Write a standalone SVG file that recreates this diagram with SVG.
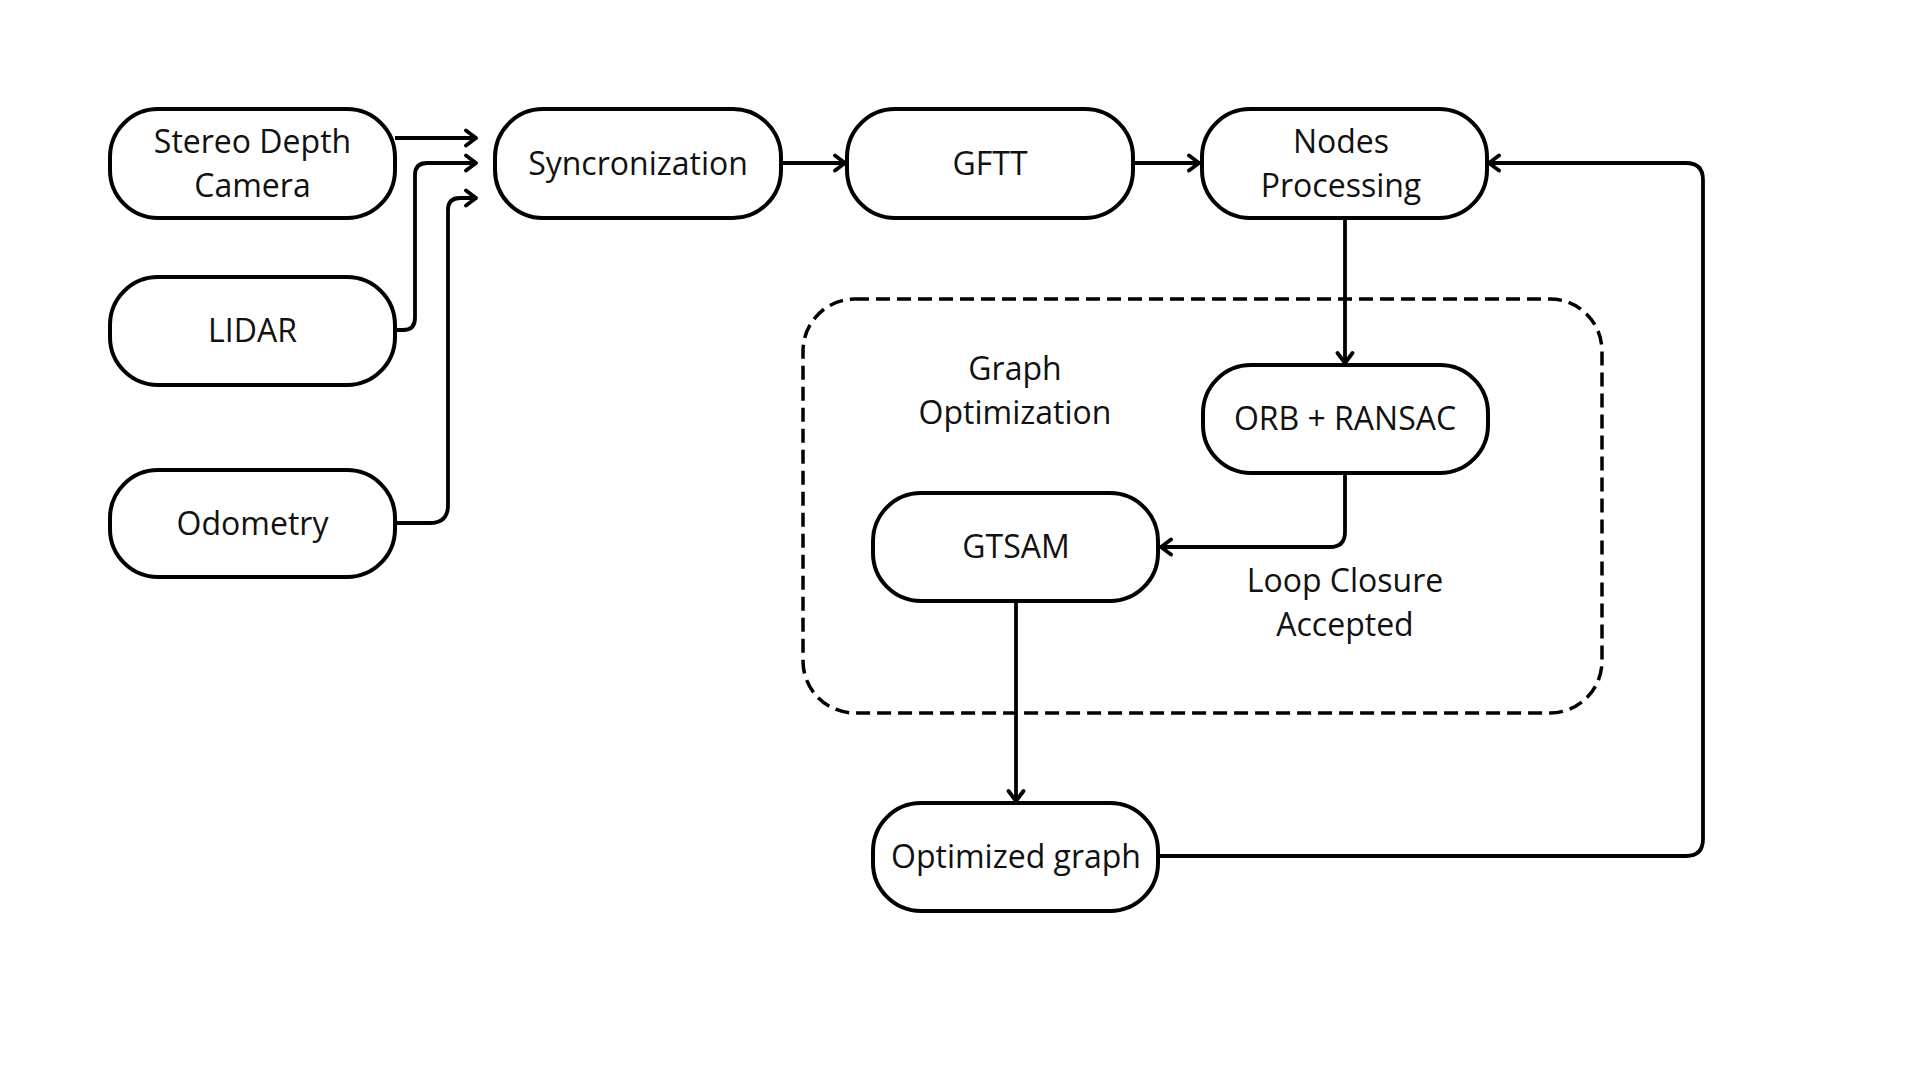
<svg xmlns="http://www.w3.org/2000/svg" width="1920" height="1080" viewBox="0 0 1920 1080">
<defs>
<style>
.node rect{fill:#fff;stroke:#000;stroke-width:4}
.lbl{font-family:"Open Sans","Noto Sans",sans-serif;font-size:32px;fill:#111;text-anchor:middle}
.conn path{fill:none;stroke:#000;stroke-width:3.8}
</style>
<marker id="arr" markerUnits="userSpaceOnUse" markerWidth="20" markerHeight="20" refX="13" refY="9" orient="auto" viewBox="0 0 20 18">
<path d="M3,1.5 L13,9 L3,16.5" fill="none" stroke="#000" stroke-width="3.8" stroke-linecap="round" stroke-linejoin="round"/>
</marker>
</defs>
<rect width="1920" height="1080" fill="#fff"/>
<g id="group-graph-optimization">
<rect x="803" y="299" width="799" height="414" rx="52" fill="none" stroke="#000" stroke-width="3.5" stroke-dasharray="14,7"/>
<text class="lbl" x="1015" y="380">Graph</text>
<text class="lbl" x="1015" y="424">Optimization</text>
</g>
<g class="conn" id="connectors">
<path d="M395,138 H476" marker-end="url(#arr)"/>
<path d="M395,330 H403 Q415,330 415,318 V175 Q415,163 427,163 H476" marker-end="url(#arr)"/>
<path d="M395,523 H430 Q448,523 448,505 V210 Q448,198 460,198 H476" marker-end="url(#arr)"/>
<path d="M781,163 H845" marker-end="url(#arr)"/>
<path d="M1133,163 H1199" marker-end="url(#arr)"/>
<path d="M1345,218 V363" marker-end="url(#arr)"/>
<path d="M1345,473 V532 Q1345,547 1330,547 H1161" marker-end="url(#arr)"/>
<path d="M1016,602 V801" marker-end="url(#arr)"/>
<path d="M1158,856 H1686 Q1703,856 1703,839 V180 Q1703,163 1686,163 H1489" marker-end="url(#arr)"/>
<text class="lbl" x="1345" y="592">Loop Closure</text>
<text class="lbl" x="1345" y="636">Accepted</text>
</g>
<g class="node" id="node-stereo">
<rect x="110" y="109" width="285" height="109" rx="48"/>
<text class="lbl" x="252.5" y="153">Stereo Depth</text>
<text class="lbl" x="252.5" y="197">Camera</text>
</g>
<g class="node" id="node-lidar">
<rect x="110" y="277" width="285" height="108" rx="48"/>
<text class="lbl" x="252.5" y="342">LIDAR</text>
</g>
<g class="node" id="node-odometry">
<rect x="110" y="470" width="285" height="107" rx="48"/>
<text class="lbl" x="252.5" y="535">Odometry</text>
</g>
<g class="node" id="node-sync">
<rect x="495" y="109" width="286" height="109" rx="48"/>
<text class="lbl" x="638" y="175">Syncronization</text>
</g>
<g class="node" id="node-gftt">
<rect x="847" y="109" width="286" height="109" rx="48"/>
<text class="lbl" x="990" y="175">GFTT</text>
</g>
<g class="node" id="node-nodes">
<rect x="1202" y="109" width="285" height="109" rx="48"/>
<text class="lbl" x="1341" y="153">Nodes</text>
<text class="lbl" x="1341" y="197">Processing</text>
</g>
<g class="node" id="node-orb">
<rect x="1203" y="365" width="285" height="108" rx="48"/>
<text class="lbl" x="1345" y="430">ORB + RANSAC</text>
</g>
<g class="node" id="node-gtsam">
<rect x="873" y="493" width="285" height="108" rx="48"/>
<text class="lbl" x="1016" y="558">GTSAM</text>
</g>
<g class="node" id="node-optimized">
<rect x="873" y="803" width="285" height="108" rx="48"/>
<text class="lbl" x="1016" y="868">Optimized graph</text>
</g>
</svg>
